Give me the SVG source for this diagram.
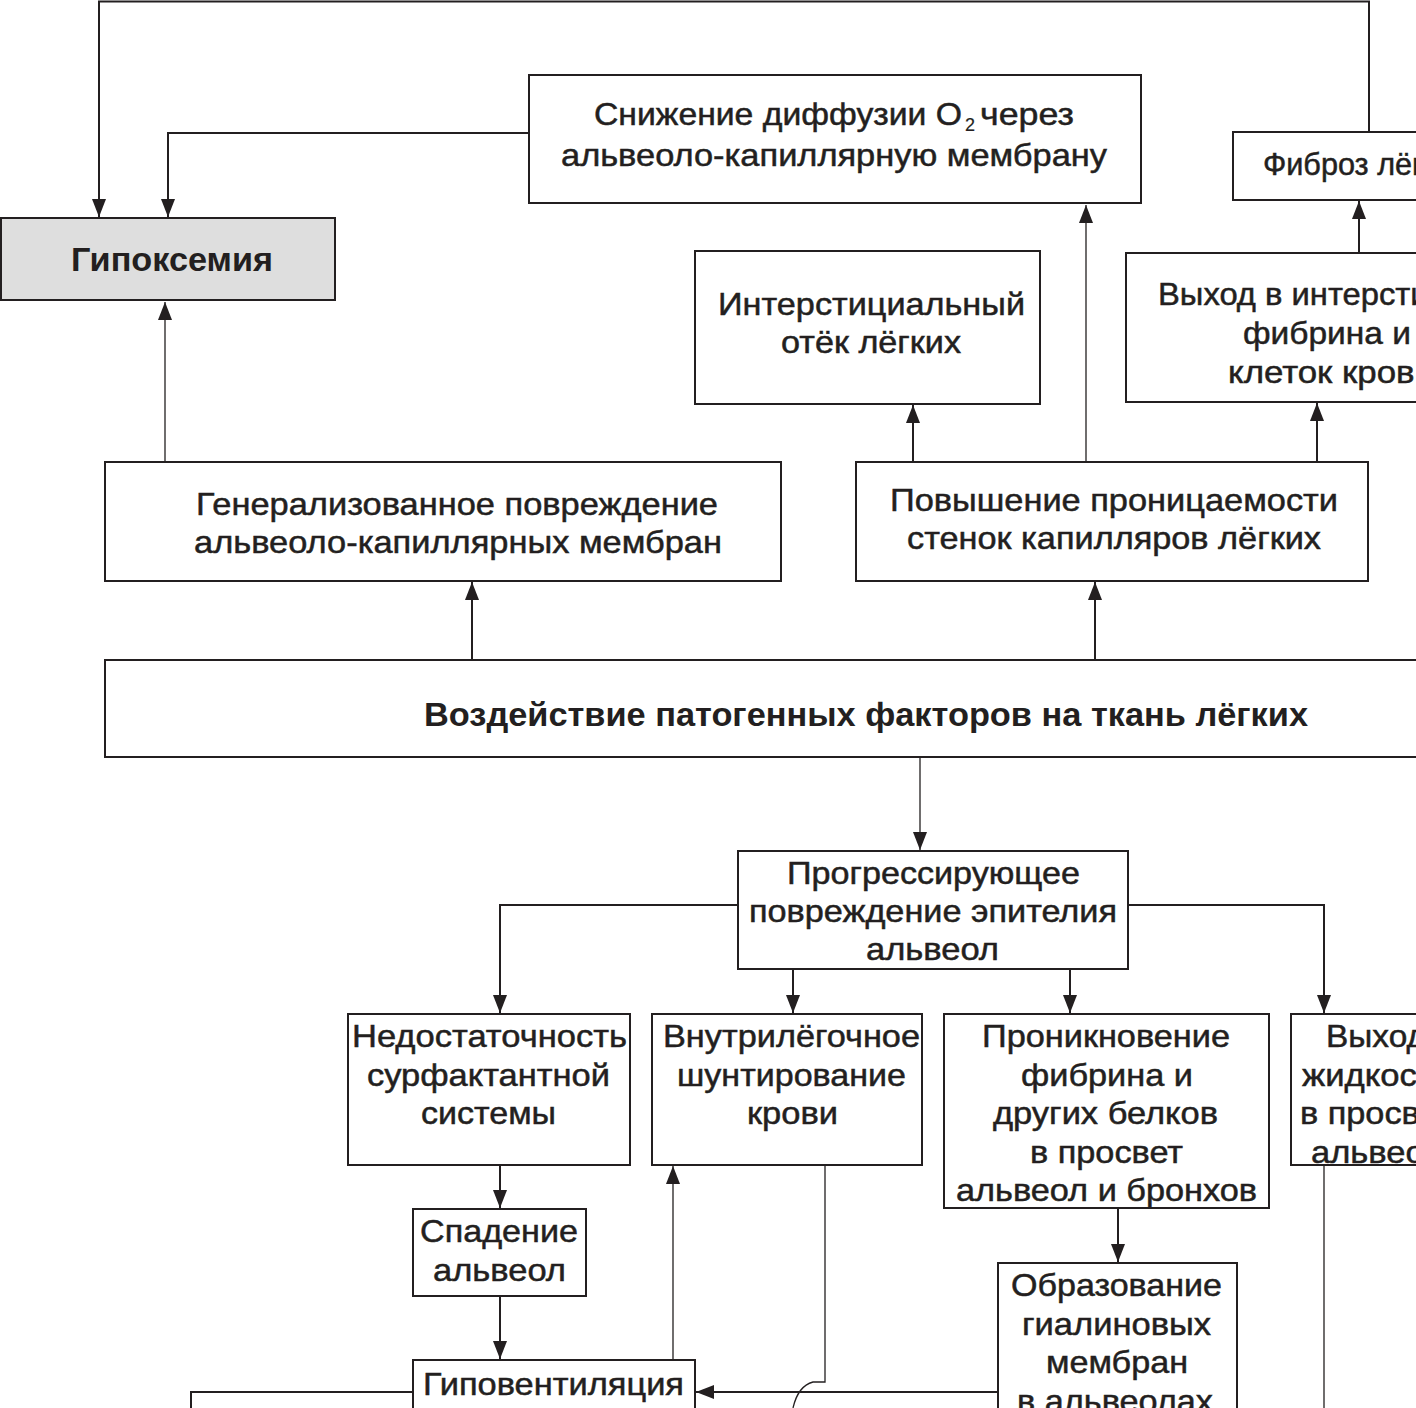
<svg xmlns="http://www.w3.org/2000/svg" width="1416" height="1408" viewBox="0 0 1416 1408">
<defs>
<marker id="ah" viewBox="0 0 18 14" refX="18" refY="7" markerWidth="18" markerHeight="14" markerUnits="userSpaceOnUse" orient="auto">
<path d="M0,0 L18,7 L0,14 Z" fill="#231f20"/>
</marker>
<style>
.box{fill:#fff;stroke:#231f20;stroke-width:2}
.gray{fill:#dedede}
.c{fill:none;stroke:#231f20;stroke-width:2}
.t{stroke:#231f20;stroke-width:1.3;fill:none}
text{font-family:"Liberation Sans",Arial,sans-serif;font-size:32px;fill:#231f20;stroke:#231f20;stroke-width:0.5}
.b{font-weight:bold;font-size:33px;stroke-width:0}
</style>
</defs>
<rect width="1416" height="1408" fill="#fff"/>

<g id="connectors">
<path class="c" d="M1369,132 V1.5 H99 V217" marker-end="url(#ah)"/>
<path class="c" d="M529,133 H168 V217" marker-end="url(#ah)"/>
<path class="t" d="M165,462 V302" marker-end="url(#ah)"/>
<path class="t" d="M1086,462 V205" marker-end="url(#ah)"/>
<path class="c" d="M913,462 V405" marker-end="url(#ah)"/>
<path class="c" d="M1317,462 V403" marker-end="url(#ah)"/>
<path class="c" d="M1359,253 V201" marker-end="url(#ah)"/>
<path class="c" d="M472,660 V582" marker-end="url(#ah)"/>
<path class="c" d="M1095,660 V582" marker-end="url(#ah)"/>
<path class="t" d="M920,758 V850" marker-end="url(#ah)"/>
<path class="c" d="M738,905 H500 V1013" marker-end="url(#ah)"/>
<path class="c" d="M1128,905 H1324 V1013" marker-end="url(#ah)"/>
<path class="c" d="M793,969 V1013" marker-end="url(#ah)"/>
<path class="c" d="M1070,969 V1013" marker-end="url(#ah)"/>
<path class="c" d="M500,1165 V1208" marker-end="url(#ah)"/>
<path class="c" d="M500,1296 V1359" marker-end="url(#ah)"/>
<path class="t" d="M673,1360 V1166" marker-end="url(#ah)"/>
<path class="t" d="M825,1165 V1382 H813 Q798,1386 793,1408"/>
<path class="c" d="M998,1392 H696" marker-end="url(#ah)"/>
<path class="c" d="M413,1392 H191 V1408"/>
<path class="c" d="M1118,1208 V1262" marker-end="url(#ah)"/>
<path class="t" d="M1324,1165 V1408"/>
</g>

<g id="n-hypoxemia">
<rect class="box gray" x="1" y="218" width="334" height="82"/>
<text class="b" x="71" y="271" textLength="202" lengthAdjust="spacingAndGlyphs">Гипоксемия</text>
</g>

<g id="n-diffusion">
<rect class="box" x="529" y="75" width="612" height="128"/>
<text x="594" y="125" textLength="368" lengthAdjust="spacingAndGlyphs">Снижение диффузии O</text>
<text x="965" y="131" style="font-size:18px;stroke-width:0.2">2</text>
<text x="980" y="125" textLength="94" lengthAdjust="spacingAndGlyphs">через</text>
<text x="561" y="166" textLength="546" lengthAdjust="spacingAndGlyphs">альвеоло-капиллярную мембрану</text>
</g>

<g id="n-fibrosis">
<rect class="box" x="1233" y="132" width="200" height="68"/>
<text x="1263" y="175" textLength="206" lengthAdjust="spacingAndGlyphs">Фиброз лёгких</text>
</g>

<g id="n-edema">
<rect class="box" x="695" y="251" width="345" height="153"/>
<text x="718" y="315" textLength="307" lengthAdjust="spacingAndGlyphs">Интерстициальный</text>
<text x="781" y="353" textLength="180" lengthAdjust="spacingAndGlyphs">отёк лёгких</text>
</g>

<g id="n-interstitium">
<rect class="box" x="1126" y="253" width="320" height="149"/>
<text x="1158" y="305" textLength="326" lengthAdjust="spacingAndGlyphs">Выход в интерстиций</text>
<text x="1243" y="344" textLength="168" lengthAdjust="spacingAndGlyphs">фибрина и</text>
<text x="1228" y="383" textLength="206" lengthAdjust="spacingAndGlyphs">клеток крови</text>
</g>

<g id="n-generalized">
<rect class="box" x="105" y="462" width="676" height="119"/>
<text x="196" y="515" textLength="522" lengthAdjust="spacingAndGlyphs">Генерализованное повреждение</text>
<text x="194" y="553" textLength="528" lengthAdjust="spacingAndGlyphs">альвеоло-капиллярных мембран</text>
</g>

<g id="n-permeability">
<rect class="box" x="856" y="462" width="512" height="119"/>
<text x="890" y="511" textLength="448" lengthAdjust="spacingAndGlyphs">Повышение проницаемости</text>
<text x="907" y="549" textLength="414" lengthAdjust="spacingAndGlyphs">стенок капилляров лёгких</text>
</g>

<g id="n-factors">
<rect class="box" x="105" y="660" width="1330" height="97"/>
<text class="b" x="424" y="726" textLength="884" lengthAdjust="spacingAndGlyphs">Воздействие патогенных факторов на ткань лёгких</text>
</g>

<g id="n-epithelium">
<rect class="box" x="738" y="851" width="390" height="118"/>
<text x="787" y="884" textLength="293" lengthAdjust="spacingAndGlyphs">Прогрессирующее</text>
<text x="749" y="922" textLength="368" lengthAdjust="spacingAndGlyphs">повреждение эпителия</text>
<text x="866" y="960" textLength="133" lengthAdjust="spacingAndGlyphs">альвеол</text>
</g>

<g id="n-surfactant">
<rect class="box" x="348" y="1014" width="282" height="151"/>
<text x="352" y="1047" textLength="275" lengthAdjust="spacingAndGlyphs">Недостаточность</text>
<text x="367" y="1086" textLength="243" lengthAdjust="spacingAndGlyphs">сурфактантной</text>
<text x="421" y="1124" textLength="135" lengthAdjust="spacingAndGlyphs">системы</text>
</g>

<g id="n-shunt">
<rect class="box" x="652" y="1014" width="270" height="151"/>
<text x="663" y="1047" textLength="257" lengthAdjust="spacingAndGlyphs">Внутрилёгочное</text>
<text x="677" y="1086" textLength="229" lengthAdjust="spacingAndGlyphs">шунтирование</text>
<text x="747" y="1124" textLength="91" lengthAdjust="spacingAndGlyphs">крови</text>
</g>

<g id="n-fibrin">
<rect class="box" x="944" y="1014" width="325" height="194"/>
<text x="982" y="1047" textLength="248" lengthAdjust="spacingAndGlyphs">Проникновение</text>
<text x="1021" y="1086" textLength="172" lengthAdjust="spacingAndGlyphs">фибрина и</text>
<text x="993" y="1124" textLength="225" lengthAdjust="spacingAndGlyphs">других белков</text>
<text x="1030" y="1163" textLength="153" lengthAdjust="spacingAndGlyphs">в просвет</text>
<text x="956" y="1201" textLength="301" lengthAdjust="spacingAndGlyphs">альвеол и бронхов</text>
</g>

<g id="n-fluid">
<rect class="box" x="1291" y="1014" width="170" height="151"/>
<text x="1326" y="1047" textLength="100" lengthAdjust="spacingAndGlyphs">Выход</text>
<text x="1302" y="1086" textLength="150" lengthAdjust="spacingAndGlyphs">жидкости</text>
<text x="1300" y="1124" textLength="153" lengthAdjust="spacingAndGlyphs">в просвет</text>
<text x="1311" y="1163" textLength="133" lengthAdjust="spacingAndGlyphs">альвеол</text>
</g>

<g id="n-collapse">
<rect class="box" x="413" y="1209" width="173" height="87"/>
<text x="420" y="1242" textLength="158" lengthAdjust="spacingAndGlyphs">Спадение</text>
<text x="433" y="1281" textLength="133" lengthAdjust="spacingAndGlyphs">альвеол</text>
</g>

<g id="n-hypoventilation">
<rect class="box" x="413" y="1360" width="282" height="70"/>
<text x="423" y="1395" textLength="261" lengthAdjust="spacingAndGlyphs">Гиповентиляция</text>
</g>

<g id="n-hyaline">
<rect class="box" x="998" y="1263" width="239" height="170"/>
<text x="1011" y="1296" textLength="211" lengthAdjust="spacingAndGlyphs">Образование</text>
<text x="1022" y="1335" textLength="189" lengthAdjust="spacingAndGlyphs">гиалиновых</text>
<text x="1046" y="1373" textLength="142" lengthAdjust="spacingAndGlyphs">мембран</text>
<text x="1017" y="1412" textLength="196" lengthAdjust="spacingAndGlyphs">в альвеолах</text>
</g>
</svg>
